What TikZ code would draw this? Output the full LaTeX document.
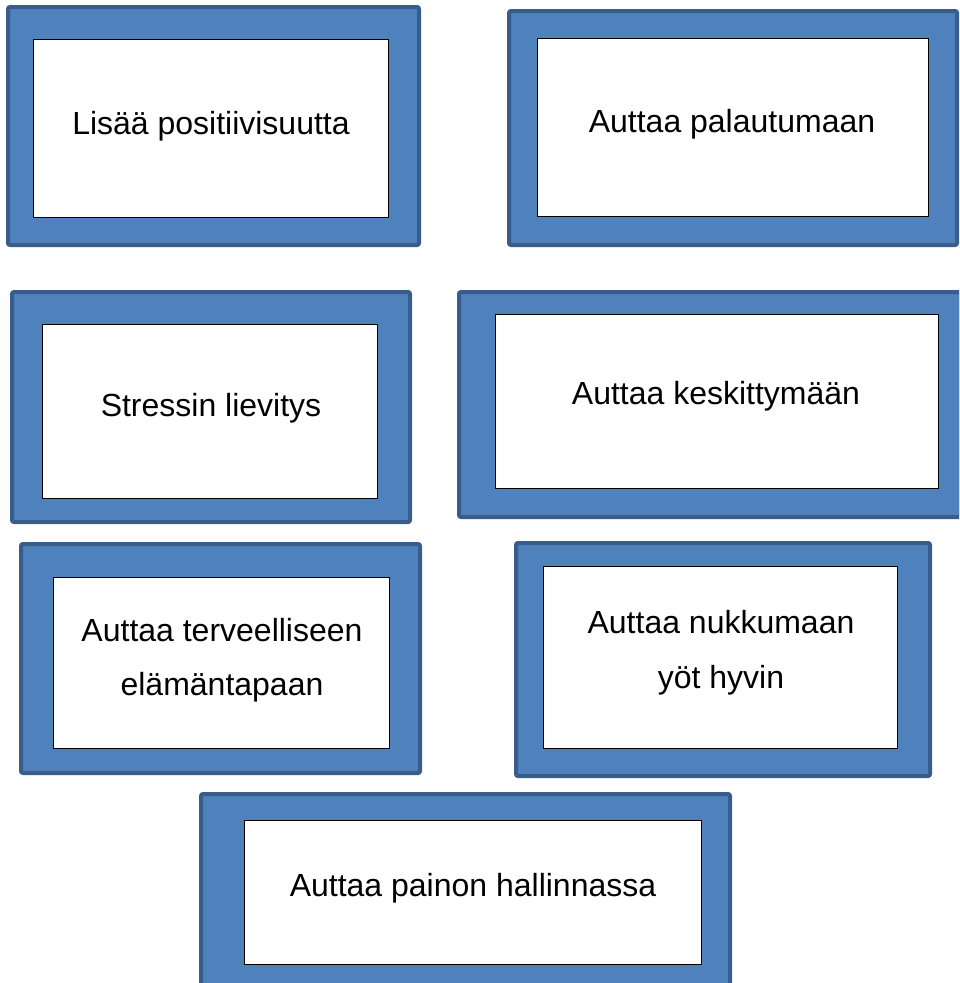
\documentclass[tikz,border=0pt]{standalone}
\usepackage{fontspec}
\setmainfont{Liberation Sans}
\definecolor{framefill}{HTML}{4F81BD}
\definecolor{frameline}{HTML}{385D8A}
\begin{document}
\begin{tikzpicture}[x=1pt,y=-1pt,
  outerbox/.style={draw=frameline, fill=framefill, line width=4pt, rounded corners=2pt,
    inner sep=0pt, outer sep=0pt},
  innerbox/.style={draw=black, fill=white, line width=1.2pt, inner sep=0pt, outer sep=0pt},
  label/.style={anchor=base, inner sep=0pt, font=\fontsize{32}{40}\selectfont}]
\useasboundingbox (0,0) rectangle (959,983);
\clip (0,0) rectangle (959,983);
% box 1
\node[outerbox, minimum width=411pt, minimum height=238pt] (o1) at (213.5,126) {};
\node[innerbox, minimum width=355pt, minimum height=178pt] (i1) at (211,128.5) {};
\node[label] (t1) at (211,134) {Lisää positiivisuutta};
% box 2
\node[outerbox, minimum width=448pt, minimum height=234pt] (o2) at (733,128) {};
\node[innerbox, minimum width=391pt, minimum height=178pt] (i2) at (733,127.5) {};
\node[label] (t2) at (732,132) {Auttaa palautumaan};
% box 3
\node[outerbox, minimum width=398pt, minimum height=230pt] (o3) at (211,407) {};
\node[innerbox, minimum width=335pt, minimum height=174pt] (i3) at (210,411.5) {};
\node[label] (t3) at (211,416) {Stressin lievitys};
% box 4
\node[outerbox, minimum width=502pt, minimum height=225pt] (o4) at (710,404.5) {};
\node[innerbox, minimum width=443pt, minimum height=174pt] (i4) at (717,401.5) {};
\node[label] (t4) at (716,404) {Auttaa keskittymään};
% box 5
\node[outerbox, minimum width=399pt, minimum height=229pt] (o5) at (220.5,658.5) {};
\node[innerbox, minimum width=336pt, minimum height=171pt] (i5) at (221.5,663) {};
\node[label] (t5a) at (222,641) {Auttaa terveelliseen};
\node[label] (t5b) at (222,695) {elämäntapaan};
% box 6
\node[outerbox, minimum width=414pt, minimum height=233pt] (o6) at (723,659.5) {};
\node[innerbox, minimum width=354pt, minimum height=182pt] (i6) at (720.5,657.5) {};
\node[label] (t6a) at (721,633) {Auttaa nukkumaan};
\node[label] (t6b) at (721,688) {yöt hyvin};
% box 7
\node[outerbox, minimum width=529pt, minimum height=199pt] (o7) at (465.5,893.5) {};
\node[innerbox, minimum width=457pt, minimum height=144pt] (i7) at (473,892.5) {};
\node[label] (t7) at (473,896) {Auttaa painon hallinnassa};
\end{tikzpicture}
\end{document}
